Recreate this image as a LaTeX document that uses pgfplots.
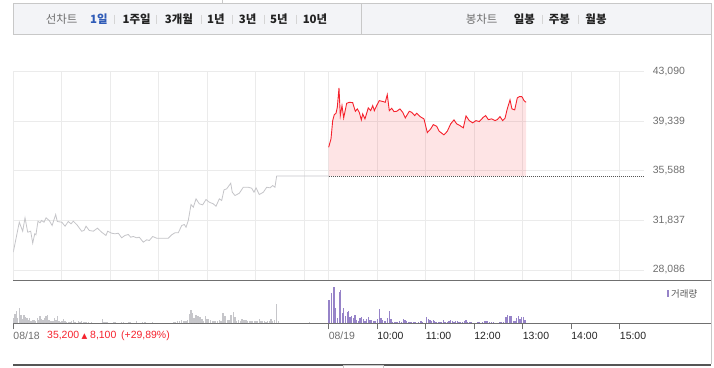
\documentclass[border=0pt]{standalone}
\usepackage{pgfplots}
\pgfplotsset{compat=1.18}
\usepackage{pgfplotstable}
\usepackage{fontspec}
\setmainfont{Liberation Sans}
\newfontfamily\kr{Noto Sans CJK KR}
\newfontfamily\dejavu{DejaVu Sans}
\definecolor{barfill}{HTML}{F3F4F7}
\definecolor{barborder}{HTML}{C8C8C8}
\definecolor{gridgray}{HTML}{EBEBEB}
\definecolor{tickgray}{HTML}{6E6E6E}
\definecolor{redline}{HTML}{F5222D}
\definecolor{volpurple}{HTML}{9683C8}
\definecolor{volgray}{HTML}{C6C6CA}
\definecolor{linegray}{HTML}{C4C4C8}
\definecolor{axisdark}{HTML}{707070}
\definecolor{dotgray}{HTML}{555555}
\definecolor{tabblue}{HTML}{2F5BB7}
\definecolor{txtdark}{HTML}{222222}
\definecolor{sepgray}{HTML}{D5D5D5}

\pgfplotstableread{
m v
0 29434
7.4 31702
11.6 31022
14.5 32035
17.8 30946
21.5 31022
24 30115
26.5 30825
28 30750
30.5 31778
33 31657
35 31830
38 31702
40.5 32035
44.5 31830
48 31452
52.4 32284
54.4 31755
60 31702
64 31400
68 31755
71.4 31581
74.2 31778
78.4 31528
84.6 31022
87.4 31075
90 31400
94 31075
99 31022
104 31249
109.3 30946
114.6 30697
116.7 31022
121.7 30870
125.8 30825
129.9 30870
134 30523
138 30697
142.2 30772
145.2 30568
148.4 30621
152.6 30523
155.8 30568
160.8 30190
165 30372
168.2 30319
172.4 30621
177.3 30493
181.4 30493
191.7 30493
195.9 30750
200 30901
204 30901
208.3 31452
211.5 31528
213.6 31324
216.4 31830
219.8 33040
222.6 32836
226 33471
230 33093
234.2 33018
238.3 33418
242.4 33214
247.3 33093
250.7 32912
254.8 33471
257.7 33343
260.6 34152
263.9 34227
268.9 34651
270.8 33970
274.2 33721
279.5 33894
284.4 34348
290.6 34348
294.8 34273
297.7 33970
300.2 34303
304.2 33796
309.2 33970
313.4 34348
317.5 34303
320.8 34477
323.6 34348
325.7 35200
390 35200
}\prevday

\pgfplotstableread{
m v
390 37372
392.9 38007
395 39391
397 39844
399.1 39943
400.7 40396
402.8 41863
404.4 39769
406.5 40525
408.6 39595
412.3 40699
415.5 40774
419.7 40751
423 40094
425.4 40275
427.9 40018
430.4 39444
432.1 39897
434.9 39519
439 40351
442 40146
444.5 40525
446.5 40146
449.4 40525
452.6 40902
457.6 40827
460 40774
462.5 41356
465 40146
468 40320
470.8 40071
474.2 40094
478.2 40275
481.6 40018
484.8 39595
489.7 40094
492.7 40018
496.4 39769
498.9 39943
503 39693
507.9 39519
512 38483
516.2 38763
519.4 39088
523.6 38960
526.8 38582
532.6 38310
536.7 38582
540.9 39141
545 39444
548.4 39141
552.4 39013
556.5 38839
559.9 39746
563.9 39391
568.1 39217
572.2 39391
576.3 39315
581.2 39640
584.2 39769
587.4 39466
591.6 39519
595.7 39391
598.6 39466
601.9 39693
605.2 39391
608.1 39565
610.9 40275
614.3 40956
616.7 40275
620.1 40200
623.3 41107
625.8 41205
628.7 41205
630 41107
631.6 40902
634.1 40774
}\todaydata

\pgfplotstableread{
m v
390 35200
390 37372
392.9 38007
395 39391
397 39844
399.1 39943
400.7 40396
402.8 41863
404.4 39769
406.5 40525
408.6 39595
412.3 40699
415.5 40774
419.7 40751
423 40094
425.4 40275
427.9 40018
430.4 39444
432.1 39897
434.9 39519
439 40351
442 40146
444.5 40525
446.5 40146
449.4 40525
452.6 40902
457.6 40827
460 40774
462.5 41356
465 40146
468 40320
470.8 40071
474.2 40094
478.2 40275
481.6 40018
484.8 39595
489.7 40094
492.7 40018
496.4 39769
498.9 39943
503 39693
507.9 39519
512 38483
516.2 38763
519.4 39088
523.6 38960
526.8 38582
532.6 38310
536.7 38582
540.9 39141
545 39444
548.4 39141
552.4 39013
556.5 38839
559.9 39746
563.9 39391
568.1 39217
572.2 39391
576.3 39315
581.2 39640
584.2 39769
587.4 39466
591.6 39519
595.7 39391
598.6 39466
601.9 39693
605.2 39391
608.1 39565
610.9 40275
614.3 40956
616.7 40275
620.1 40200
623.3 41107
625.8 41205
628.7 41205
630 41107
631.6 40902
634.1 40774
634.1 35200
}\fillpoly

\pgfplotstableread{
m v
0 5.3
2.1 9.3
3.7 12.7
5.4 5.3
7.4 15.3
9.5 8
11.6 4.7
13.2 8.7
15.3 6
16.9 5.3
18.6 3.7
20.3 5.3
21.9 2
23.5 3.7
25.6 3
27.2 2
29.7 5.3
31.4 3.7
33 7
35.1 4.7
36.7 3.7
38.8 5.3
40.4 7
42 8.3
44.2 3.7
45.8 2.7
47.9 2
49.5 2.7
51.2 5.3
52.8 3.7
54.9 7
56.5 2.7
58.6 1.3
60.2 2
61.8 4
63.9 2
66 1.3
68 1.3
70.1 1.3
72.2 2
74.2 3
76.3 1.7
80.4 2
82.5 1.3
84.6 2
86.6 1.3
88.7 1.3
90.8 1.7
92.8 1.7
97 1.3
110.1 4
112.2 1.3
114.6 1.3
116.7 1.3
123.7 1.3
125.8 1.3
134.1 1.3
136 1.3
142.2 1.3
144.3 1.3
152.6 2
159.5 1.3
162.9 1.3
172.4 1.3
197.9 1.3
200 1.3
203 2
205.3 2.7
208.3 3
211.1 2
213.6 2.7
215.2 3.7
217.7 9.3
219.8 13
221.4 10.7
223.5 5.3
226 8
228.4 7
230.9 6
233.4 4
235.5 2.7
237.4 7
239.5 4
241.7 4
243.6 3.3
246.1 2.7
248.2 2
250.3 2.7
252.8 2
254.8 3.7
256.9 2.7
259.3 10.3
261.8 7
264.7 3.7
266.8 3.7
269.2 8
272.1 11.3
274.2 6
276.3 2.7
278.3 3.3
280.7 2
282.8 4.3
285.3 3
287.8 3
289.9 2
291.9 2.7
294 2
296.1 2
298 2.7
300.2 2.7
302.2 2.3
304.2 4.3
306.3 2.3
308.4 2
310.4 2
312.5 1.7
314.6 2.7
316.6 2
318.7 4
320.8 2
322.8 3
325.7 19.3
327.7 2.7
366.1 1.3
}\volprev

\pgfplotstableread{
m v
390.5 23.3
393.8 30.3
396.6 36.3
398.2 15.3
400.7 5.3
403.2 31.3
404.4 33.3
406.9 10.3
408.6 15.3
410.6 7
413.1 11.3
414.3 12
416.4 6
418.5 7
420.5 5.3
422.6 8
424.7 3.7
426.7 2.7
428.8 5.3
430.9 6.3
432.8 4
434.9 2.7
437 4.7
439 6
441.1 3
443.2 3.3
445.2 2
447.3 2.7
450.2 4
452.6 14.3
454.7 5.3
456.8 3.7
459.7 2.7
462.5 5.3
465 12.3
467.1 4
469.2 1.3
471.2 1.3
473.3 1.3
475.4 1.3
477.9 2
480.3 1.3
482.3 4.3
484.4 3.3
486.5 2
488.5 1.3
490.6 1.7
492.7 1.3
494.7 1.3
496.8 1.3
500.9 1.3
504.2 2.7
506.3 1.7
511.3 6.7
513.2 4
515.3 3
517.4 2
519.4 3
520.7 2
522.8 1.3
525.6 1.3
527.7 1.3
529.8 1.7
531.8 3.3
533.9 1.7
536.7 1.7
538.8 2
540.9 3
542.9 2
545 1.3
547.1 2
549.1 2
551.2 1.3
553.3 1.3
555.3 1.3
557.8 2
559.9 3.3
562 1.7
564 1.7
566.1 1.3
573.8 1.3
575.9 1.3
580 1.7
582.5 2
584.6 2.7
586.7 2
588.7 1.3
591.6 1.3
593.6 1.3
601.9 1.7
604 1.7
606 1.7
609.3 6
611.4 8
613.4 7
615.5 7
618.3 2.7
620.4 2.7
622.6 5.3
624.5 7
626.7 4
628.8 6
630.7 6
632.8 3
}\voltoday

\begin{document}
\begin{tikzpicture}
\path[use as bounding box] (0,0) rectangle (714bp,-368bp);
% top bar
\draw[barborder, fill=barfill, line width=0.8bp] (13.3bp,-3.3bp) rectangle (711bp,-34.3bp);
\draw[barborder, line width=0.8bp] (222bp,0bp) -- (222bp,-3.3bp);
\draw[barborder, line width=0.8bp] (361bp,-3.3bp) -- (361bp,-34.3bp);
\begin{scope}[every node/.style={font=\kr\fontsize{11.5}{12}\selectfont, inner sep=0pt}]
\node[text=tickgray] at (61.7bp,-19.2bp) {선차트};
\node[text=tabblue, font=\kr\bfseries\fontsize{11.5}{12}\selectfont] at (99bp,-19.2bp) {1일};
\node[text=txtdark, font=\kr\bfseries\fontsize{11.5}{12}\selectfont] at (136.7bp,-19.2bp) {1주일};
\node[text=txtdark, font=\kr\bfseries\fontsize{11.5}{12}\selectfont] at (179bp,-19.2bp) {3개월};
\node[text=txtdark, font=\kr\bfseries\fontsize{11.5}{12}\selectfont] at (216bp,-19.2bp) {1년};
\node[text=txtdark, font=\kr\bfseries\fontsize{11.5}{12}\selectfont] at (247.7bp,-19.2bp) {3년};
\node[text=txtdark, font=\kr\bfseries\fontsize{11.5}{12}\selectfont] at (279bp,-19.2bp) {5년};
\node[text=txtdark, font=\kr\bfseries\fontsize{11.5}{12}\selectfont] at (315bp,-19.2bp) {10년};
\node[text=tickgray] at (481.7bp,-19.2bp) {봉차트};
\node[text=txtdark, font=\kr\bfseries\fontsize{11.5}{12}\selectfont] at (524.3bp,-19.2bp) {일봉};
\node[text=txtdark, font=\kr\bfseries\fontsize{11.5}{12}\selectfont] at (559.3bp,-19.2bp) {주봉};
\node[text=txtdark, font=\kr\bfseries\fontsize{11.5}{12}\selectfont] at (596bp,-19.2bp) {월봉};
\end{scope}
\foreach \sx in {114.3,156.7,201,232,264,296.3,542.7,578.3}{
  \draw[sepgray, line width=0.7bp] (\sx bp,-14.8bp) -- (\sx bp,-23.5bp);
}
% right border
\draw[barborder, line width=0.8bp] (711bp,-34.3bp) -- (711bp,-364bp);
% price axis
\begin{axis}[
  at={(13.3bp,-280.7bp)}, anchor=south west,
  width=630.7bp, height=209bp, scale only axis,
  xmin=0, xmax=780, ymin=27276, ymax=43090,
  axis line style={draw=none},
  scaled y ticks=false, scaled x ticks=false,
  xtick={0,60,120,180,240,300,360,390,450,510,570,630,690,750},
  xticklabels={},
  ytick={28086,31837,35588,39339,43090},
  yticklabels={{28,086},{31,837},{35,588},{39,339},{43,090}},
  yticklabel pos=right,
  yticklabel style={anchor=west, inner sep=0pt, xshift=8.7bp, font=\fontsize{10.5}{12}\selectfont, text=tickgray},
  grid=major, major grid style={draw=gridgray, line width=0.9bp},
  major tick length=0pt, tick style={draw=none},
]
\addplot[linegray, line width=0.8bp, mark=none] table[x=m,y=v] {\prevday};
\addplot[draw=none, fill=redline, fill opacity=0.12, mark=none] table[x=m,y=v] {\fillpoly};
\addplot[redline, line width=0.9bp, mark=none] table[x=m,y=v] {\todaydata};
\addplot[dotgray, line width=0.7bp, dash pattern=on 0.8bp off 1.2bp, mark=none] coordinates {(390,35200) (780,35200)};
\end{axis}
% volume panel lines
\draw[axisdark, line width=0.9bp] (13.3bp,-280.7bp) -- (711bp,-280.7bp);
\draw[axisdark, line width=0.9bp] (13.3bp,-323.3bp) -- (711bp,-323.3bp);
\begin{axis}[
  at={(13.3bp,-323.3bp)}, anchor=south west,
  width=630.7bp, height=42.6bp, scale only axis,
  xmin=0, xmax=780, ymin=0, ymax=42.6,
  axis x line*=bottom, axis y line=none,
  x axis line style={draw=none},
  ytick=\empty,
  xtick={0,390,450,510,570,630,690,750},
  xticklabels={\textcolor{tickgray}{08/18},\textcolor{tickgray}{08/19},10:00,11:00,12:00,13:00,14:00,15:00},
  tick align=outside, major tick length=6bp,
  xtick style={draw=axisdark, line width=0.9bp},
  xticklabel style={anchor=west, inner sep=0pt, font=\fontsize{10.5}{12}\selectfont, text=txtdark, yshift=-6.7bp},
  clip=false,
]
\addplot[ycomb, volgray, line width=1.2bp, mark=none] table[x=m,y=v] {\volprev};
\addplot[ycomb, volpurple, line width=1.2bp, mark=none] table[x=m,y=v] {\voltoday};
\end{axis}
% legend
\fill[volpurple] (666.7bp,-290bp) rectangle (669.3bp,-297bp);
\node[anchor=west, inner sep=0pt, font=\kr\fontsize{9.5}{10}\selectfont, text=tickgray!80!black] at (671bp,-293.5bp) {거래량};
% price summary
\begin{scope}[every node/.style={anchor=west, inner sep=0pt, text=redline, font=\fontsize{10.5}{12}\selectfont}]
\node at (47bp,-336bp) {35,200};
\node[font=\dejavu\fontsize{7.5}{8}\selectfont] at (81.5bp,-336.3bp) {▲};
\node at (90bp,-336bp) {8,100};
\node at (121bp,-336bp) {(+29,89\%)};
\end{scope}
% bottom line and tab
\draw[dotgray, line width=2bp] (13.3bp,-364.5bp) -- (711bp,-364.5bp);
\draw[barborder, line width=0.8bp] (343bp,-368bp) -- (343bp,-365.5bp) -- (383bp,-365.5bp) -- (383bp,-368bp);
\end{tikzpicture}
\end{document}
